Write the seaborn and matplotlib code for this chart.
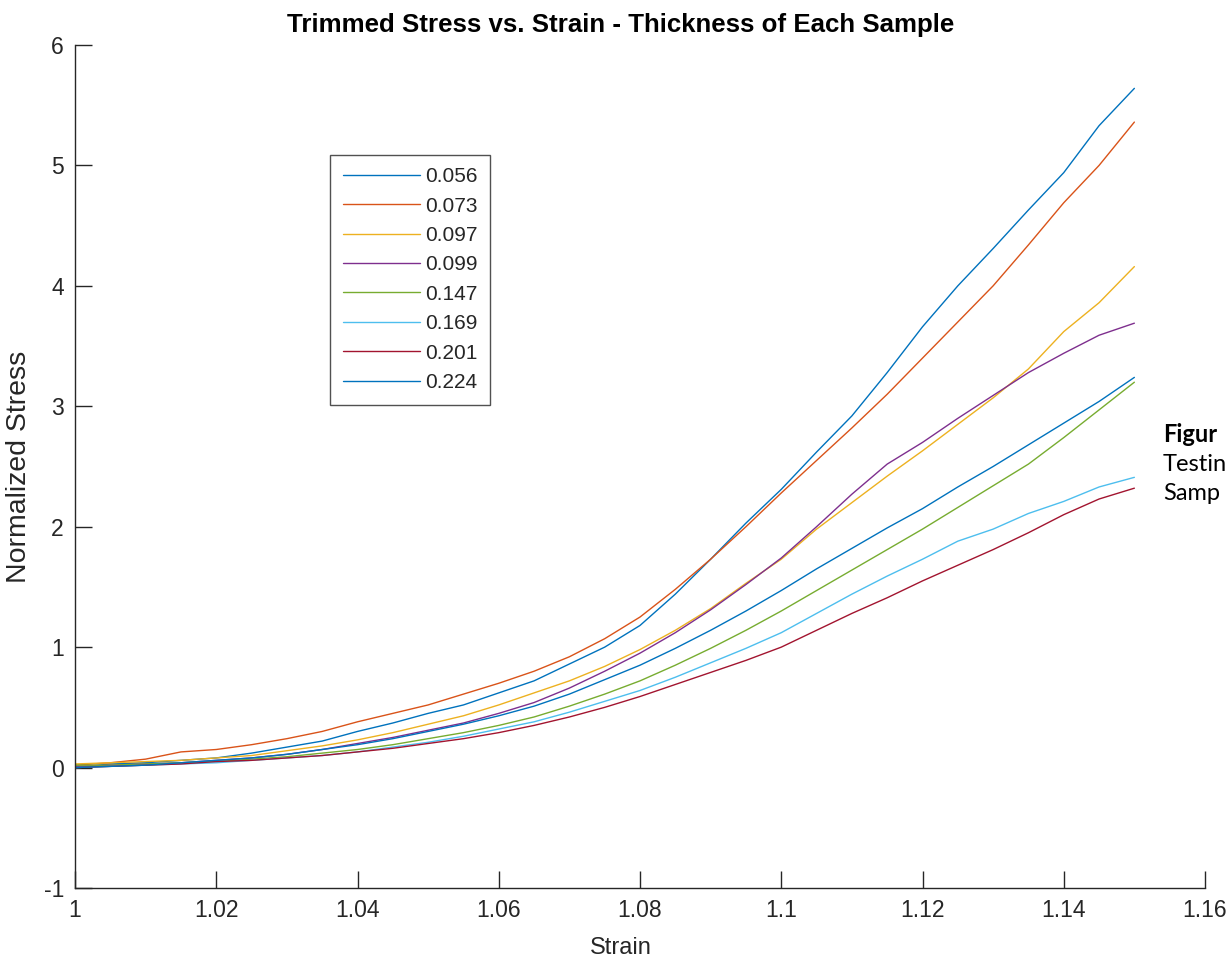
import numpy as np
import pandas as pd
import matplotlib
matplotlib.use("Agg")
import matplotlib.pyplot as plt
import seaborn as sns

# strain grid the curves were read at
strain = [1.000, 1.005, 1.010, 1.015, 1.020, 1.025, 1.030, 1.035, 1.040, 1.045,
          1.050, 1.055, 1.060, 1.065, 1.070, 1.075, 1.080, 1.085, 1.090, 1.095,
          1.100, 1.105, 1.110, 1.115, 1.120, 1.125, 1.130, 1.135, 1.140, 1.145,
          1.150]

thickness_labels = ["0.056", "0.073", "0.097", "0.099", "0.147", "0.169", "0.201", "0.224"]

stress_056 = [0.00, 0.03, 0.04, 0.06, 0.08, 0.12, 0.17, 0.22, 0.30, 0.37,
              0.45, 0.52, 0.62, 0.72, 0.86, 1.00, 1.18, 1.44, 1.73, 2.03,
              2.31, 2.62, 2.92, 3.28, 3.66, 4.00, 4.31, 4.63, 4.94, 5.33,
              5.64]
stress_073 = [0.02, 0.04, 0.07, 0.13, 0.15, 0.19, 0.24, 0.30, 0.38, 0.45,
              0.52, 0.61, 0.70, 0.80, 0.92, 1.07, 1.25, 1.48, 1.73, 2.00,
              2.28, 2.55, 2.82, 3.10, 3.40, 3.70, 4.00, 4.34, 4.69, 5.00,
              5.36]
stress_097 = [0.03, 0.04, 0.05, 0.06, 0.08, 0.10, 0.14, 0.18, 0.23, 0.29,
              0.36, 0.43, 0.52, 0.62, 0.72, 0.84, 0.98, 1.14, 1.32, 1.53,
              1.73, 1.98, 2.20, 2.42, 2.63, 2.85, 3.07, 3.31, 3.62, 3.86,
              4.16]
stress_099 = [0.01, 0.02, 0.03, 0.04, 0.06, 0.08, 0.11, 0.15, 0.20, 0.25,
              0.31, 0.37, 0.45, 0.54, 0.66, 0.80, 0.95, 1.12, 1.31, 1.52,
              1.74, 2.00, 2.27, 2.52, 2.70, 2.90, 3.09, 3.28, 3.44, 3.59,
              3.69]
stress_147 = [0.02, 0.02, 0.03, 0.04, 0.05, 0.07, 0.09, 0.12, 0.15, 0.19,
              0.24, 0.29, 0.35, 0.42, 0.51, 0.61, 0.72, 0.85, 0.99, 1.14,
              1.30, 1.47, 1.64, 1.81, 1.98, 2.16, 2.34, 2.52, 2.74, 2.97,
              3.20]
stress_169 = [0.00, 0.01, 0.02, 0.03, 0.04, 0.06, 0.08, 0.10, 0.13, 0.17,
              0.21, 0.26, 0.32, 0.38, 0.46, 0.55, 0.64, 0.75, 0.87, 0.99,
              1.12, 1.28, 1.44, 1.59, 1.73, 1.88, 1.98, 2.11, 2.21, 2.33,
              2.41]
stress_201 = [0.00, 0.01, 0.02, 0.03, 0.05, 0.06, 0.08, 0.10, 0.13, 0.16,
              0.20, 0.24, 0.29, 0.35, 0.42, 0.50, 0.59, 0.69, 0.79, 0.89,
              1.00, 1.14, 1.28, 1.41, 1.55, 1.68, 1.81, 1.95, 2.10, 2.23,
              2.32]
stress_224 = [0.00, 0.01, 0.02, 0.04, 0.06, 0.08, 0.11, 0.15, 0.19, 0.24,
              0.30, 0.36, 0.43, 0.51, 0.61, 0.73, 0.85, 0.99, 1.14, 1.30,
              1.47, 1.65, 1.82, 1.99, 2.15, 2.33, 2.50, 2.68, 2.86, 3.04,
              3.24]

series = [stress_056, stress_073, stress_097, stress_099,
          stress_147, stress_169, stress_201, stress_224]

# MATLAB default colour order (wraps back to blue for the 8th line)
matlab_colors = ["#0072BD", "#D95319", "#EDB120", "#7E2F8E",
                 "#77AC30", "#4DBEEE", "#A2142F", "#0072BD"]

# caption lines from the page, only the part that shows
caption_lines = ["Figur", "Testin", "Samp"]

frames = []
for label, vals in zip(thickness_labels, series):
    frames.append(pd.DataFrame({"Strain": strain, "Stress": vals, "Thickness": label}))
df = pd.concat(frames, ignore_index=True)

sns.set_style("ticks")
plt.rcParams["font.family"] = ["Liberation Sans", "DejaVu Sans"]
plt.rcParams["axes.unicode_minus"] = False
grey = "#262626"

fig = plt.figure(figsize=(12.3, 9.66), dpi=100)
ax = fig.add_axes([75 / 1230, 1 - 888 / 966, 1130 / 1230, 843 / 966])

sns.lineplot(data=df, x="Strain", y="Stress", hue="Thickness",
             hue_order=thickness_labels,
             palette=dict(zip(thickness_labels, matlab_colors)),
             linewidth=1.0, ax=ax, sort=False)

ax.set_xlim(1.0, 1.16)
ax.set_ylim(-1, 6)
xt = [1.0, 1.02, 1.04, 1.06, 1.08, 1.1, 1.12, 1.14, 1.16]
ax.set_xticks(xt)
ax.set_xticklabels(["1", "1.02", "1.04", "1.06", "1.08", "1.1", "1.12", "1.14", "1.16"])
ax.set_yticks(range(-1, 7))
ax.tick_params(direction="in", length=12, width=1.0, colors=grey,
               labelsize=16.5, pad=8)
for side in ["top", "right"]:
    ax.spines[side].set_visible(False)
for side in ["left", "bottom"]:
    ax.spines[side].set_color(grey)
    ax.spines[side].set_linewidth(1.0)

ax.set_xlabel("Strain", fontsize=17, color=grey)
ax.set_ylabel("Normalized Stress", fontsize=20.5, color=grey)
ax.xaxis.set_label_coords(0.483, -0.058)
ax.yaxis.set_label_coords(-0.038, 0.5)
ax.set_title("Trimmed Stress vs. Strain - Thickness of Each Sample",
             fontsize=18.6, fontweight="bold", color="black", x=0.483, pad=9)

leg = ax.legend(loc="upper left", bbox_to_anchor=(0.2257, 0.870), borderaxespad=0,
                fontsize=15, frameon=True, fancybox=False, handlelength=3.7,
                handletextpad=0.25, labelspacing=0.5, borderpad=0.6)
leg.get_frame().set_edgecolor(grey)
leg.get_frame().set_linewidth(1.0)
for t in leg.get_texts():
    t.set_color(grey)

cap_font = ["Lato", "DejaVu Sans"]
fig.text(1163 / 1230, 1 - 442 / 966, caption_lines[0], fontsize=17, fontweight="bold",
         family=cap_font, color="black")
fig.text(1163 / 1230, 1 - 471 / 966, caption_lines[1], fontsize=17,
         family=cap_font, color="black")
fig.text(1163 / 1230, 1 - 500 / 966, caption_lines[2], fontsize=17,
         family=cap_font, color="black")

fig.savefig("out.png", dpi=100)
